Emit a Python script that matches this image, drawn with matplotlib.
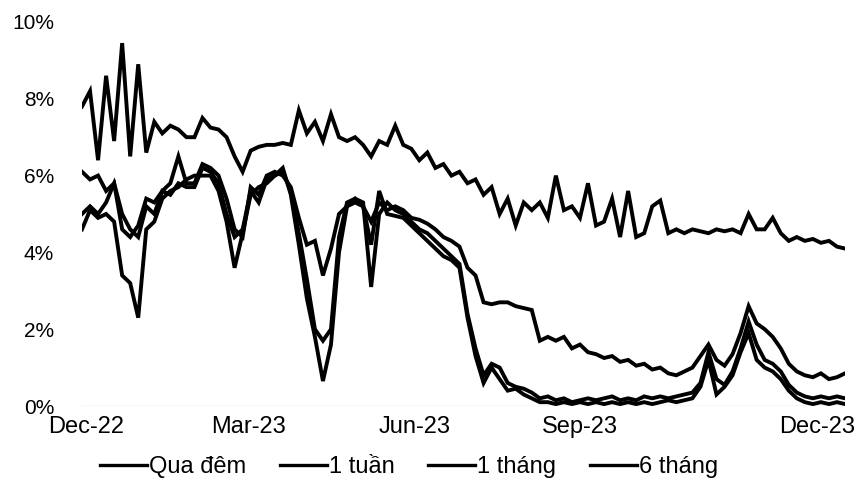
import numpy as np
import matplotlib.pyplot as plt

plt.rcParams['font.family'] = ['Liberation Sans', 'DejaVu Sans']

# interbank rates (%), sampled at evenly spaced points Dec-22 -> Dec-23
qua_dem = [4.6, 5.1, 4.9, 5.0, 4.8, 3.4, 3.2, 2.3, 4.6, 4.8,
           5.4, 5.6, 5.7, 5.9, 6.0, 6.0, 6.0, 5.6, 4.8, 3.6,
           4.5, 5.5, 5.7, 5.8, 6.0, 6.2, 5.5, 4.2, 2.8, 1.8,
           0.65, 1.6, 4.0, 5.2, 5.4, 5.2, 4.2, 5.6, 5.0, 4.95,
           4.9, 4.7, 4.5, 4.3, 4.1, 3.9, 3.8, 3.6, 2.3, 1.3,
           0.6, 1.0, 0.7, 0.4, 0.45, 0.3, 0.2, 0.1, 0.1, 0.05,
           0.1, 0.05, 0.1, 0.05, 0.1, 0.05, 0.1, 0.05, 0.1, 0.05,
           0.1, 0.05, 0.1, 0.15, 0.1, 0.15, 0.2, 0.5, 1.2, 0.3,
           0.5, 0.8, 1.4, 1.9, 1.2, 1.0, 0.9, 0.7, 0.4, 0.2,
           0.1, 0.05, 0.1, 0.05, 0.1, 0.05]
mot_tuan = [5.0, 5.2, 5.0, 5.3, 5.8, 5.0, 4.6, 4.4, 5.2, 5.0,
            5.6, 5.5, 5.8, 5.7, 5.7, 6.2, 6.1, 5.8, 5.0, 4.4,
            4.6, 5.6, 5.3, 5.9, 6.0, 6.1, 5.6, 4.5, 3.3, 2.0,
            1.7, 2.0, 4.4, 5.3, 5.4, 5.3, 3.1, 5.0, 5.3, 5.1,
            5.0, 4.8, 4.6, 4.5, 4.3, 4.1, 3.9, 3.7, 2.4, 1.5,
            0.8, 1.1, 1.0, 0.6, 0.5, 0.45, 0.35, 0.2, 0.25, 0.15,
            0.2, 0.1, 0.15, 0.2, 0.15, 0.2, 0.25, 0.15, 0.2, 0.15,
            0.25, 0.2, 0.25, 0.2, 0.25, 0.3, 0.35, 0.6, 1.4, 0.7,
            0.55, 0.9, 1.5, 2.2, 1.6, 1.2, 1.1, 0.9, 0.55, 0.35,
            0.25, 0.2, 0.25, 0.2, 0.25, 0.2]
mot_thang = [6.1, 5.9, 6.0, 5.6, 5.8, 4.6, 4.4, 4.7, 5.4, 5.3,
             5.6, 5.8, 6.5, 5.8, 5.8, 6.3, 6.2, 6.0, 5.4, 4.6,
             4.4, 5.7, 5.5, 6.0, 6.1, 6.0, 5.7, 4.9, 4.2, 4.3,
             3.4, 4.1, 5.0, 5.2, 5.3, 5.2, 4.8, 5.3, 5.1, 5.2,
             5.1, 4.9, 4.85, 4.75, 4.6, 4.4, 4.3, 4.15, 3.6, 3.4,
             2.7, 2.65, 2.7, 2.7, 2.6, 2.55, 2.5, 1.7, 1.8, 1.7,
             1.8, 1.5, 1.6, 1.4, 1.35, 1.25, 1.3, 1.15, 1.2, 1.05,
             1.1, 0.95, 1.0, 0.85, 0.8, 0.9, 1.0, 1.3, 1.6, 1.2,
             1.05, 1.35, 1.9, 2.6, 2.15, 2.0, 1.8, 1.5, 1.1, 0.9,
             0.8, 0.75, 0.85, 0.7, 0.75, 0.85]
sau_thang = [7.8, 8.2, 6.4, 8.6, 6.9, 9.45, 6.5, 8.9, 6.6, 7.4,
             7.1, 7.3, 7.2, 7.0, 7.0, 7.5, 7.25, 7.2, 7.0, 6.5,
             6.1, 6.65, 6.75, 6.8, 6.8, 6.85, 6.8, 7.7, 7.1, 7.4,
             6.9, 7.6, 7.0, 6.9, 7.0, 6.8, 6.5, 6.9, 6.8, 7.3,
             6.8, 6.7, 6.4, 6.6, 6.2, 6.3, 6.0, 6.1, 5.8, 5.9,
             5.5, 5.7, 5.0, 5.4, 4.7, 5.3, 5.1, 5.3, 4.9, 6.0,
             5.1, 5.2, 4.9, 5.8, 4.7, 4.8, 5.4, 4.4, 5.6, 4.4,
             4.5, 5.2, 5.35, 4.5, 4.6, 4.5, 4.6, 4.55, 4.5, 4.6,
             4.55, 4.6, 4.5, 5.0, 4.6, 4.6, 4.9, 4.5, 4.3, 4.4,
             4.3, 4.35, 4.25, 4.3, 4.15, 4.1]

tick_pos = [0.5, 20.75, 41.4, 62, 91.5]
tick_labels = ['Dec-22', 'Mar-23', 'Jun-23', 'Sep-23', 'Dec-23']
series = [('Qua đêm', qua_dem), ('1 tuần', mot_tuan),
          ('1 tháng', mot_thang), ('6 tháng', sau_thang)]

fig = plt.figure(figsize=(8.62, 4.88), dpi=100)
ax = fig.add_axes([82/862, 82/488, 763/862, 384/488])

x = np.arange(len(qua_dem))
for name, vals in series:
    ax.plot(x, vals, color='black', lw=2.8, label=name,
            solid_joinstyle='miter')

ax.axhline(0, color='#d8d8d8', lw=1, zorder=0)
ax.set_xlim(0, len(qua_dem) - 1)
ax.set_ylim(0, 10)
ax.set_yticks(range(0, 11, 2))
ax.set_yticklabels([f'{v}%' for v in range(0, 11, 2)], fontsize=15)
ax.set_xticks(tick_pos)
ax.set_xticklabels(tick_labels, fontsize=17)
ax.tick_params(axis='y', length=0, pad=20)
ax.tick_params(axis='x', length=0, pad=7)
for s in ax.spines.values():
    s.set_visible(False)

leg = fig.legend(loc='center', bbox_to_anchor=(409/862, 1 - 467/488), ncol=4,
                 frameon=False, fontsize=17, handlelength=2.0,
                 handletextpad=0.1, columnspacing=1.4)
for h in leg.legend_handles:
    h.set_linewidth(2.4)

fig.savefig('out.png', dpi=100)
